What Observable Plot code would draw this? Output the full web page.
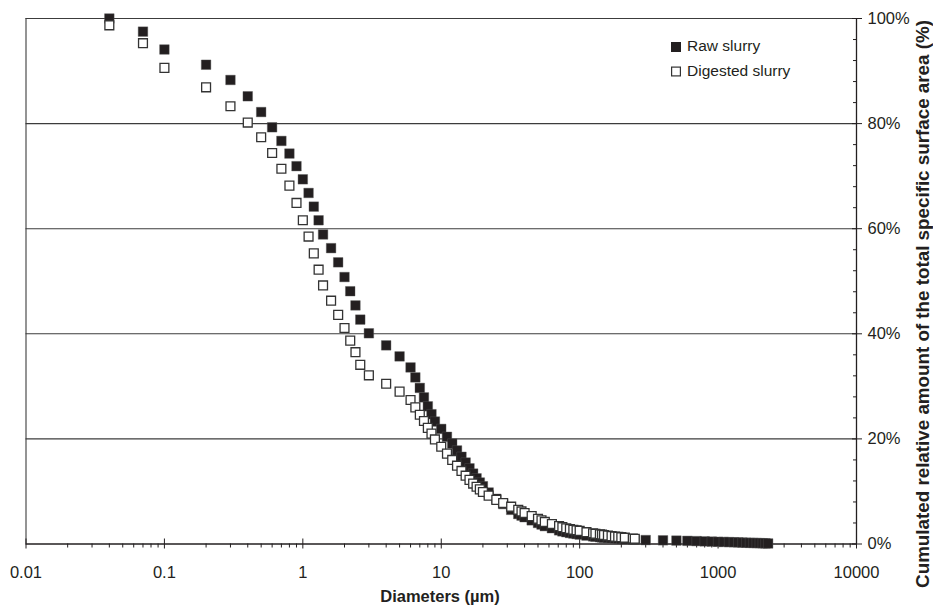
<!DOCTYPE html>
<html><head><meta charset="utf-8">
<script src="https://cdn.jsdelivr.net/npm/d3@7"></script>
<script src="https://cdn.jsdelivr.net/npm/@observablehq/plot@0.6"></script>
<style>body{margin:0;background:#fff} #chart{width:933px;height:606px}</style>
</head><body><div id="chart"></div>
<script>
// Particle size classes (µm)
const diameters = [0.04,0.07,0.1,0.2,0.3,0.4,0.5,0.6,0.7,0.8,0.9,1.0,1.1,1.2,1.3,1.4,1.6,1.8,2.0,2.2,2.4,2.6,3,4,5,6,6.5,7,7.5,8,8.5,9,10,11,12,13,14,15,16,17,18,19,20,22,25,28,32,36,38,40,45,50,53,56,63,71,75,80,85,90,95,100,112,125,130,140,145,150,160,170,180,190,200,212,242,250,300,400,500,600,700,800,900,1000,1100,1200,1300,1400,1500,1600,1700,1800,1900,2000,2100,2200,2300,2400,2500];
// Raw slurry cumulated % (filled squares)
const rawSlurry = [100,97.5,94.1,91.2,88.3,85.2,82.2,79.3,76.7,74.3,71.9,69.4,66.8,64.2,61.6,58.9,56.3,53.6,50.8,48.1,45.4,42.7,40.1,37.8,35.7,33.6,31.7,29.7,27.9,26.2,24.7,23.3,21.9,20.4,19.1,17.8,16.6,15.5,14.4,13.4,12.5,11.7,11.0,9.8,8.6,7.6,6.5,5.7,5.4,5.1,4.5,4.0,3.7,3.4,3.0,2.6,2.4,2.25,2.1,2.0,1.9,1.8,1.6,1.45,1.4,1.3,1.25,1.2,1.15,1.1,1.05,1.0,0.95,0.9,0.85,0.82,0.75,0.7,0.65,0.6,0.55,0.5,0.46,0.42,0.39,0.36,0.33,0.3,0.27,0.24,0.22,0.2,0.18,0.16,0.14,0.12,0.1];
// Digested slurry cumulated % (open squares); null = not plotted
const digestedSlurry = [98.7,95.3,90.6,86.9,83.3,80.2,77.4,74.4,71.4,68.2,64.9,61.6,58.5,55.3,52.2,49.2,46.3,43.6,41.1,38.7,36.5,34.1,32.1,30.5,29.0,27.4,26.0,24.6,23.4,22.1,21.0,19.9,18.5,17.2,16.0,14.9,13.9,13.0,12.2,11.5,10.9,10.4,9.9,9.2,8.4,7.8,7.1,6.5,6.2,5.9,5.3,4.8,4.5,4.2,3.8,3.4,3.2,3.0,2.85,2.7,2.6,2.5,2.25,2.05,1.95,1.85,1.8,1.7,1.6,1.5,1.4,1.35,1.3,1.2,1.05,1.0,null,null,null,null,null,null,null,null,null,null,null,null,null,null,null,null,null,null,null,null,null,null,null,null];
const seriesNames = ["Raw slurry","Digested slurry"];
const xTickValues = [0.01,0.1,1,10,100,1000,10000];
const xTickLabels = ["0.01","0.1","1","10","100","1000","10000"];
const yTickValues = [0,20,40,60,80,100];
const yTickLabels = ["0%","20%","40%","60%","80%","100%"];
const xTitle = "Diameters (µm)";
const yTitle = "Cumulated relative amount of the total specific surface area (%)";

const rawData = diameters.map((d,i)=>({d, v: rawSlurry[i]}));
const digData = diameters.map((d,i)=>({d, v: digestedSlurry[i]})).filter(o=>o.v!=null);
const minorX = [];
xTickValues.slice(0,-1).forEach(t=>{for(let k=2;k<10;k++) minorX.push(t*k);});
const minorY = d3.range(0,101,4).filter(v=>v%20!==0);
const ink = "#231f20";
const font = "'Liberation Sans', Arial, sans-serif";

const chart = Plot.plot({
  width: 933, height: 606,
  marginLeft: 25.5, marginRight: 77, marginTop: 18, marginBottom: 62.5,
  x: {type: "log", domain: [0.01, 10000], label: null},
  y: {domain: [0, 100], label: null},
  style: {fontFamily: font, background: "white", color: ink},
  marks: [
    Plot.ruleY([20,40,60,80,100], {stroke: "#3c3c3c", strokeWidth: 1.1}),
    Plot.ruleX([0.01], {stroke: "#3c3c3c", strokeWidth: 1.1}),
    Plot.ruleX([10000], {stroke: ink, strokeWidth: 1.3}),
    Plot.ruleY([0], {stroke: ink, strokeWidth: 1.3}),
    Plot.axisX(minorX, {tickSize: 4, tickFormat: () => "", stroke: ink, label: null}),
    Plot.axisX(xTickValues, {tickSize: 10, dy: -5, tickFormat: () => "", stroke: ink, label: null}),
    Plot.axisX(xTickValues, {tickSize: 0, tickPadding: 22, fontSize: 16.5, fill: ink, label: null,
      tickFormat: d => xTickLabels[xTickValues.indexOf(d)]}),
    Plot.axisY(minorY, {anchor: "right", tickSize: 4, dx: -4, tickFormat: () => "", stroke: ink, label: null}),
    Plot.axisY(yTickValues, {anchor: "right", tickSize: 10, dx: -5, tickFormat: () => "", stroke: ink, label: null}),
    Plot.axisY(yTickValues, {anchor: "right", tickSize: 0, tickPadding: 11, fontSize: 16.5, fill: ink, label: null,
      tickFormat: d => yTickLabels[yTickValues.indexOf(d)]}),
    Plot.dot(rawData, {x: "d", y: "v", symbol: "square", r: 5.4, fill: ink, stroke: "#555", strokeWidth: 0.4}),
    Plot.dot(digData, {x: "d", y: "v", symbol: "square", r: 5.0, fill: "white", stroke: "#333", strokeWidth: 1.3})
  ]
});

const svg = d3.select(chart);
svg.append("text").attr("x", 440).attr("y", 598).attr("text-anchor", "middle")
  .attr("dominant-baseline", "middle").attr("font-family", font).attr("font-size", 16.5)
  .attr("font-weight", "bold").attr("fill", ink).text(xTitle);
svg.append("text").attr("transform", "translate(924,304) rotate(-90)").attr("text-anchor", "middle")
  .attr("dominant-baseline", "middle").attr("font-family", font).attr("font-size", 18.8)
  .attr("font-weight", "bold").attr("fill", ink).text(yTitle);
const lg = svg.append("g");
lg.append("rect").attr("x", 671).attr("y", 42).attr("width", 10).attr("height", 10).attr("fill", ink);
lg.append("rect").attr("x", 671.6).attr("y", 67.1).attr("width", 8.8).attr("height", 8.8)
  .attr("fill", "white").attr("stroke", "#333").attr("stroke-width", 1.2);
seriesNames.forEach((n,i)=>{
  lg.append("text").attr("x", 687).attr("y", 47 + i*24.5).attr("dominant-baseline", "middle")
    .attr("text-anchor", "start").attr("font-family", font).attr("font-size", 15.5)
    .attr("fill", ink).text(n);
});
document.getElementById("chart").appendChild(chart);
</script>
</body></html>
